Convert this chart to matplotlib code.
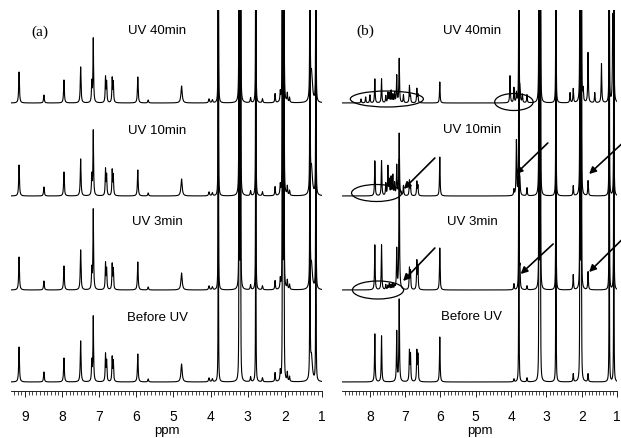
import numpy as np
import matplotlib.pyplot as plt
from matplotlib.patches import Ellipse
from matplotlib.ticker import MultipleLocator

# 谱线位置 (ppm) 和各谱的峰高 (纵坐标单位与图像像素相当)
trace_names = ["Before UV", "UV 3min", "UV 10min", "UV 40min"]
trace_offsets = [9, 101, 195, 288]

# (a) 小峰
a_ppm = [9.16, 8.49, 7.95, 7.50, 7.20, 7.16, 6.83, 6.80, 6.65, 6.62, 5.96, 5.68,
         4.78, 4.04, 3.95, 2.92, 2.60, 2.26, 2.12, 1.93, 1.87, 1.28]
a_width = [0.012, 0.012, 0.012, 0.012, 0.010, 0.010, 0.010, 0.010, 0.010, 0.010, 0.012, 0.012,
           0.020, 0.015, 0.015, 0.012, 0.012, 0.010, 0.010, 0.010, 0.010, 0.030]
a_before = [35, 10, 24, 41, 20, 65, 27, 20, 24, 20, 28, 3, 18, 4, 3, 5, 4, 9, 10, 9, 5, 25]
a_3min = [33, 9, 24, 40, 20, 80, 26, 20, 25, 20, 28, 3, 17, 4, 3, 5, 4, 9, 10, 9, 5, 25]
a_10min = [31, 9, 24, 37, 20, 65, 26, 20, 25, 20, 26, 3, 17, 4, 3, 5, 4, 9, 10, 9, 5, 28]
a_40min = [31, 8, 23, 36, 20, 64, 25, 20, 24, 20, 26, 3, 17, 4, 3, 5, 4, 9, 10, 9, 5, 30]
# (a) 超出范围的强峰
a_tall = [3.79, 3.23, 3.21, 3.19, 2.78, 2.06, 2.04, 2.02, 1.32, 1.16]

# (b) 小峰
b_ppm = [8.25, 8.12, 8.00, 7.86, 7.67, 7.55, 7.49, 7.45, 7.40, 7.35, 7.30, 7.24, 7.17, 7.05,
         6.88, 6.85, 6.67, 6.64, 6.02, 4.03, 3.92, 3.85, 3.75, 3.68, 3.55,
         2.33, 2.24, 1.96, 1.82, 1.63, 1.44, 1.12]
b_before = [0, 0, 0, 48, 46, 0, 0, 0, 0, 0, 0, 50, 82, 0,
            30, 26, 30, 26, 45, 0, 3, 0, 0, 0, 4,
            0, 8, 0, 8, 0, 0, 0]
b_3min = [0, 0, 0, 45, 45, 5, 4, 6, 5, 6, 4, 40, 130, 0,
          21, 18, 28, 22, 42, 0, 6, 0, 20, 0, 4,
          0, 15, 0, 18, 0, 0, 0]
b_10min = [0, 0, 0, 35, 35, 12, 29, 15, 18, 20, 12, 30, 62, 10,
           15, 10, 14, 10, 39, 0, 6, 55, 12, 0, 8,
           0, 10, 0, 15, 0, 0, 0]
b_40min = [4, 6, 8, 24, 24, 7, 10, 9, 12, 8, 10, 27, 44, 8,
           17, 6, 14, 8, 21, 27, 15, 10, 12, 8, 8,
           10, 14, 12, 50, 10, 39, 82]
b_tall = [3.78, 3.21, 3.19, 3.17, 2.73, 2.05, 2.03, 2.01, 1.22, 1.09]

# 椭圆标记: (ppm 中心, 纵坐标, 宽 ppm, 高)
b_ellipses = [(7.52, 292, 2.07, 16), (3.92, 289, 1.09, 17),
              (7.81, 198, 1.42, 17), (7.77, 101, 1.45, 18)]
# 箭头: (起点 ppm, 起点 y, 终点 ppm, 终点 y)
b_arrows = [(6.16, 233, 7.04, 202), (2.96, 248, 3.87, 217), (0.87, 247, 1.79, 217),
            (6.16, 143, 7.06, 110), (2.81, 147, 3.73, 117), (0.87, 151, 1.79, 119)]

x = np.linspace(9.6, 0.8, 24000)


def lorentz(p, h, w):
    return h * w ** 2 / ((x - p) ** 2 + w ** 2)


def spectrum(ppm, heights, widths, tall):
    y = np.zeros_like(x)
    for p, h, w in zip(ppm, heights, widths):
        if h > 0:
            y += lorentz(p, h, w)
    # 强峰: 窄而高, 超出坐标上沿被裁掉
    for p in tall:
        y += lorentz(p, 1500, 0.002)
    return y


def setup_axis(ax, left, right, label_x, labels_y):
    ax.set_xlim(left, right)
    ax.set_ylim(0, 381)
    for s in ["top", "left", "right"]:
        ax.spines[s].set_visible(False)
    ax.spines["bottom"].set_linewidth(0.6)
    ax.set_yticks([])
    ax.xaxis.set_major_locator(MultipleLocator(1))
    ax.xaxis.set_minor_locator(MultipleLocator(0.1))
    ax.tick_params(axis="x", which="major", length=4, width=0.6, pad=9, labelsize=10)
    ax.tick_params(axis="x", which="minor", length=3, width=0.5)
    ax.set_xlabel("ppm", fontsize=9.5, labelpad=1)
    for name, ly in zip(trace_names, labels_y):
        ax.text(label_x, ly, name, ha="center", va="center", fontsize=9.5)


plt.rcParams["font.family"] = ["Liberation Sans", "DejaVu Sans"]
fig = plt.figure(figsize=(6.21, 4.39), dpi=100)
ax_a = fig.add_axes([11 / 621, 1 - 392 / 439, 311 / 621, 381 / 439])
ax_b = fig.add_axes([342 / 621, 1 - 392 / 439, 275 / 621, 381 / 439])

# (a)
a_sets = [a_before, a_3min, a_10min, a_40min]
for h, off in zip(a_sets, trace_offsets):
    ax_a.plot(x, spectrum(a_ppm, h, a_width, a_tall) + off, color="k", lw=0.8)
setup_axis(ax_a, 9.377, 0.995, 5.44, [74, 170, 261, 361])
ax_a.text(8.6, 360, "(a)", ha="center", va="center", fontsize=11,
          family=["Liberation Serif", "DejaVu Serif"])

# (b)
b_sets = [b_before, b_3min, b_10min, b_40min]
b_width = [0.010] * len(b_ppm)
for h, off in zip(b_sets, trace_offsets):
    ax_b.plot(x, spectrum(b_ppm, h, b_width, b_tall) + off, color="k", lw=0.8)
setup_axis(ax_b, 8.79, 1.0, 5.11, [75, 170, 262, 361])
ax_b.text(8.14, 361, "(b)", ha="center", va="center", fontsize=11,
          family=["Liberation Serif", "DejaVu Serif"])

for cx, cy, w, h in b_ellipses:
    ax_b.add_patch(Ellipse((cx, cy), w, h, fill=False, edgecolor="k", lw=0.9))
for x0, y0, x1, y1 in b_arrows:
    ax_b.annotate("", xy=(x1, y1), xytext=(x0, y0), annotation_clip=False,
                  arrowprops=dict(arrowstyle="-|>", color="k", lw=1.2,
                                  mutation_scale=10, shrinkA=0, shrinkB=0))

fig.savefig("out.png", dpi=100)
